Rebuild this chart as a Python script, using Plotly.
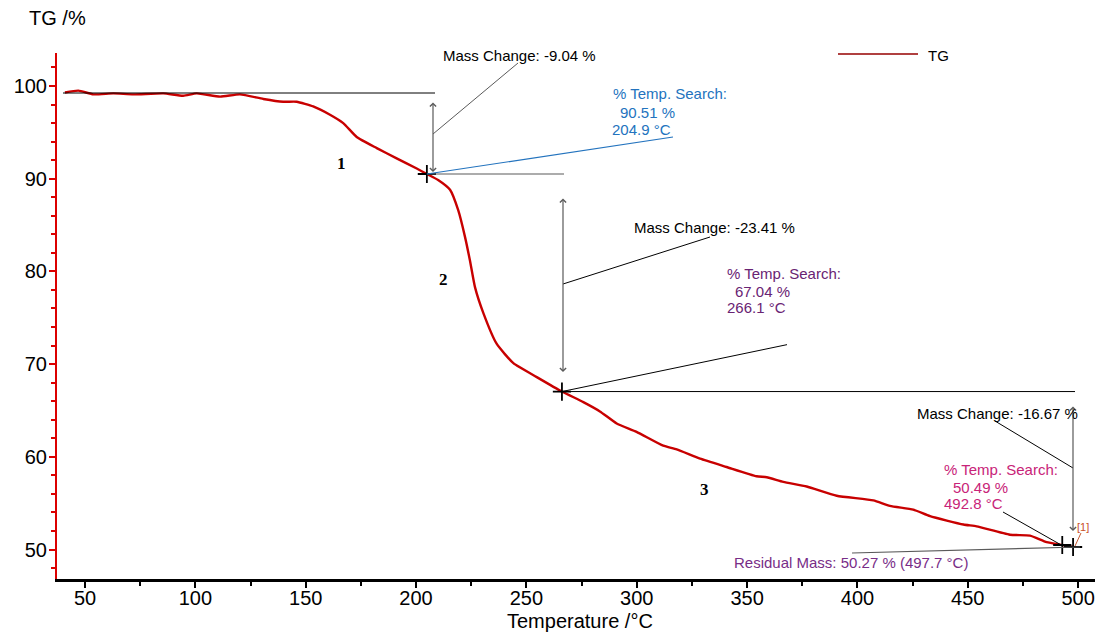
import plotly.graph_objects as go

# ---------------- data ----------------
temp_c = [40.9, 47.0, 53.8, 62.8, 71.9, 85.5, 94.5, 100.6, 111.2, 120.2, 130.8, 139.8,
          145.9, 153.4, 161.0, 167.0, 173.1, 182.2, 191.2, 200.3, 204.9, 210.0, 215.4,
          219.1, 222.2, 224.4, 226.7, 230.5, 236.5, 244.1, 254.7, 266.1, 275.8, 283.3,
          290.9, 299.9, 312.0, 318.1, 328.7, 340.7, 354.3, 358.9, 366.4, 377.0, 390.6,
          407.2, 414.7, 425.3, 432.9, 448.0, 454.0, 469.1, 478.2, 485.7, 492.8, 497.7]
tg_pct = [99.3, 99.5, 99.1, 99.2, 99.1, 99.2, 98.95, 99.2, 98.85, 99.1, 98.6, 98.3,
          98.3, 97.8, 96.9, 96.0, 94.5, 93.3, 92.2, 91.1, 90.51, 89.86, 88.8,
          86.6, 83.7, 81.2, 78.3, 75.5, 72.2, 70.1, 68.6, 67.04, 65.9, 64.9,
          63.6, 62.7, 61.2, 60.8, 59.8, 58.9, 57.9, 57.8, 57.3, 56.8, 55.8,
          55.3, 54.7, 54.3, 53.6, 52.7, 52.5, 51.6, 51.5, 50.8, 50.49, 50.27]

search_temp = [204.9, 266.1, 492.8]
search_mass = [90.51, 67.04, 50.49]
mass_change = [-9.04, -23.41, -16.67]
residual_temp = 497.7
residual_mass = 50.27
step_labels = ["1", "2", "3"]

x_ticks = [50, 100, 150, 200, 250, 300, 350, 400, 450, 500]
y_ticks = [50, 60, 70, 80, 90, 100]

# ---------------- layout geometry ----------------
OFF = 8  # page body margin
W, H = 1095, 624
L, R, T, B = 49, 0, 45, 53
PW, PH = W - L - R, H - T - B
XR = [37.31, 511.26]
YR = [46.82, 103.56]


def px(x):  # viewport pixel -> paper x
    return (x - OFF - L) / PW


def py(y):  # viewport pixel -> paper y
    return (OFF + H - B - y) / PH


def dx(x):  # viewport pixel -> data x
    return XR[0] + (x - OFF - L) / PW * (XR[1] - XR[0])


FONT = "Liberation Sans, Arial, sans-serif"
BLUE = "rgb(35,115,190)"
PURPLE = "rgb(105,35,115)"
MAGENTA = "rgb(200,35,120)"
RESID = "rgb(120,45,135)"
GRAY = "rgb(90,90,90)"

fig = go.Figure()
fig.add_trace(go.Scatter(x=temp_c, y=tg_pct, mode="lines",
                         line=dict(color="rgb(200,0,0)", width=2.4, shape="spline", smoothing=0.5),
                         showlegend=False, hoverinfo="skip"))
fig.add_trace(go.Scatter(x=search_temp + [residual_temp], y=search_mass + [residual_mass],
                         mode="markers",
                         marker=dict(symbol="cross-thin", size=13, line=dict(color="black", width=1.8)),
                         showlegend=False, hoverinfo="skip"))

shapes = []
annots = []


def pline(x0, y0, x1, y1, color="black", width=1):
    shapes.append(dict(type="line", xref="paper", yref="paper", x0=px(x0), y0=py(y0),
                       x1=px(x1), y1=py(y1), line=dict(color=color, width=width)))


def dline(x0, y0, x1, y1, color="black", width=1):
    shapes.append(dict(type="line", xref="x", yref="y", x0=x0, y0=y0, x1=x1, y1=y1,
                       line=dict(color=color, width=width)))


def text(s, x, y, color="black", size=15, family=FONT, xanchor="left"):
    annots.append(dict(text=s, xref="paper", yref="paper", x=px(x), y=py(y), xanchor=xanchor,
                       yanchor="middle", showarrow=False, font=dict(color=color, size=size, family=family)))


def darrow(x, ytop, ybot):
    annots.append(dict(text="", xref="paper", yref="paper", x=px(x), y=py(ybot), ax=0, ay=ytop - ybot,
                       showarrow=True, arrowhead=4, startarrowhead=4, arrowside="end+start",
                       arrowsize=1, arrowwidth=1.2, arrowcolor=GRAY))


# step 1
pline(63, 93, 435, 93, "black", 1)
darrow(433, 101, 172)
pline(433, 134, 518, 63, GRAY, 1)
dline(search_temp[0], search_mass[0], dx(564), search_mass[0], GRAY, 1.2)
dline(search_temp[0], search_mass[0], dx(673), 94.5, BLUE, 1.2)
text(f"Mass Change: {mass_change[0]:.2f} %", 441, 55)
text("% Temp. Search:", 611, 94, BLUE)
text(f"{search_mass[0]:.2f} %", 618, 112, BLUE)
text(f"{search_temp[0]:.1f} °C", 610, 129, BLUE)

# step 2
darrow(563, 197, 372)
pline(563, 284, 710, 237, "black", 1)
dline(search_temp[1], search_mass[1], dx(1075), search_mass[1], "black", 1)
dline(search_temp[1], search_mass[1], dx(787), 72.1, "black", 1)
text(f"Mass Change: {mass_change[1]:.2f} %", 632, 227)
text("% Temp. Search:", 725, 273, PURPLE)
text(f"{search_mass[1]:.2f} %", 733, 291, PURPLE)
text(f"{search_temp[1]:.1f} °C", 725, 307, PURPLE)

# step 3
darrow(1073, 405, 531)
pline(1073, 468, 995, 421, "black", 1)
pline(1003, 512, 1063, 546, "black", 1)
pline(852, 553, 1080, 547, GRAY, 1.2)
pline(1075, 546, 1081, 533, "rgb(200,90,50)", 1)
text(f"Mass Change: {mass_change[2]:.2f} %", 915, 414)
text("% Temp. Search:", 942, 469, MAGENTA)
text(f"{search_mass[2]:.2f} %", 951, 487, MAGENTA)
text(f"{search_temp[2]:.1f} °C", 942, 503, MAGENTA)
text(f"Residual Mass: {residual_mass:.2f} % ({residual_temp:.1f} °C)", 732, 562, RESID, size=15)
text("[1]", 1075, 527, "rgb(200,80,40)", size=11)

# step numbers
for s, (xx, yy) in zip(step_labels, [(341, 163), (443, 279), (704, 489)]):
    text(f"<b>{s}</b>", xx, yy, "black", size=17, family="Liberation Serif, Times New Roman, serif",
         xanchor="center")

# axis titles
text("TG /%", 27, 18, "black", size=20)
text("Temperature /°C", 580, 621, "black", size=20, xanchor="center")

# legend
pline(838, 54, 918, 54, "rgb(150,0,0)", 1.5)
text("TG", 926, 55, "black", size=15)

fig.update_layout(
    width=W, height=H,
    margin=dict(l=L, r=R, t=T, b=B),
    paper_bgcolor="white", plot_bgcolor="white",
    shapes=shapes, annotations=annots,
    showlegend=False,
    xaxis=dict(range=XR, tickvals=x_ticks, ticks="outside", ticklen=6, tickwidth=1.5,
               tickcolor="black", showline=True, linecolor="black", linewidth=2.5,
               showgrid=False, zeroline=False, tickfont=dict(family=FONT, size=20, color="black"),
               ticklabelstandoff=-7,
               minor=dict(dtick=25, ticks="outside", ticklen=4, tickcolor="black", showgrid=False)),
    yaxis=dict(range=YR, tickvals=y_ticks, ticks="outside", ticklen=6, tickwidth=1.5,
               tickcolor="rgb(220,0,0)", showline=True, linecolor="rgb(220,0,0)", linewidth=2,
               showgrid=False, zeroline=False, tickfont=dict(family=FONT, size=20, color="black"),
               ticklabelstandoff=-2,
               minor=dict(dtick=2, ticks="outside", ticklen=4, tickcolor="rgb(220,0,0)", showgrid=False)),
)

fig.write_html("out.html")
